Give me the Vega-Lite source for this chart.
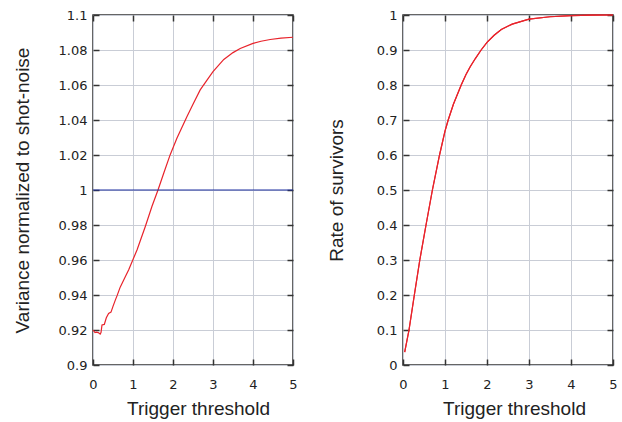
{
  "$schema": "https://vega.github.io/schema/vega-lite/v6.json",
  "padding": {"left": 12, "top": 8, "right": 5, "bottom": 5},
  "background": "white",
  "spacing": 28,
  "datasets": {
    "variance": [
      {"x": 0.0, "v": 0.920}, {"x": 0.05, "v": 0.9185}, {"x": 0.09, "v": 0.9188}, {"x": 0.13, "v": 0.9185},
      {"x": 0.18, "v": 0.9177}, {"x": 0.2, "v": 0.9185}, {"x": 0.225, "v": 0.9229}, {"x": 0.283, "v": 0.9232},
      {"x": 0.333, "v": 0.927}, {"x": 0.39, "v": 0.9295}, {"x": 0.45, "v": 0.9302}, {"x": 0.5, "v": 0.9335},
      {"x": 0.56, "v": 0.9372}, {"x": 0.6, "v": 0.9395}, {"x": 0.68, "v": 0.9445}, {"x": 0.81, "v": 0.9506},
      {"x": 0.89, "v": 0.9543}, {"x": 1.0, "v": 0.9603}, {"x": 1.1, "v": 0.9657}, {"x": 1.31, "v": 0.9793},
      {"x": 1.475, "v": 0.9907}, {"x": 1.625, "v": 1.0}, {"x": 1.77, "v": 1.0097}, {"x": 1.93, "v": 1.0202},
      {"x": 2.1, "v": 1.0297}, {"x": 2.35, "v": 1.042}, {"x": 2.5, "v": 1.049}, {"x": 2.68, "v": 1.0572},
      {"x": 2.85, "v": 1.0628}, {"x": 3.0, "v": 1.0676}, {"x": 3.27, "v": 1.0746}, {"x": 3.5, "v": 1.0785},
      {"x": 3.68, "v": 1.0809}, {"x": 4.0, "v": 1.0838}, {"x": 4.2, "v": 1.085}, {"x": 4.43, "v": 1.086},
      {"x": 4.7, "v": 1.0868}, {"x": 5.0, "v": 1.0873}
    ],
    "ref": [{"x": 0, "v": 1.0}, {"x": 5, "v": 1.0}],
    "survivors": [
      {"x": 0.04, "r": 0.037}, {"x": 0.143, "r": 0.10}, {"x": 0.27, "r": 0.20}, {"x": 0.40, "r": 0.30},
      {"x": 0.548, "r": 0.40}, {"x": 0.70, "r": 0.50}, {"x": 0.87, "r": 0.60}, {"x": 1.0, "r": 0.668},
      {"x": 1.076, "r": 0.70}, {"x": 1.2, "r": 0.745}, {"x": 1.386, "r": 0.80}, {"x": 1.5, "r": 0.83},
      {"x": 1.6, "r": 0.852}, {"x": 1.73, "r": 0.877}, {"x": 1.86, "r": 0.90}, {"x": 2.0, "r": 0.922},
      {"x": 2.17, "r": 0.942}, {"x": 2.34, "r": 0.9586}, {"x": 2.6, "r": 0.974}, {"x": 3.0, "r": 0.988},
      {"x": 3.5, "r": 0.995}, {"x": 4.0, "r": 0.998}, {"x": 4.5, "r": 0.9995}, {"x": 5.0, "r": 1.0}
    ]
  },
  "hconcat": [
    {
      "width": 200,
      "height": 350,
      "layer": [
        {
          "data": {"name": "variance"},
          "mark": {"type": "line", "color": "#e8232b", "strokeWidth": 1.2},
          "encoding": {
            "x": {"field": "x", "type": "quantitative", "scale": {"domain": [0, 5], "nice": false},
                  "axis": {"orient": "bottom", "title": "Trigger threshold", "values": [0, 1, 2, 3, 4, 5], "grid": true, "titleX": 105}},
            "y": {"field": "v", "type": "quantitative", "scale": {"domain": [0.9, 1.1], "nice": false, "zero": false},
                  "axis": {"orient": "left", "title": "Variance normalized to shot-noise", "format": "~g", "grid": true, "titlePadding": 26,
                           "values": [0.9, 0.92, 0.94, 0.96, 0.98, 1, 1.02, 1.04, 1.06, 1.08, 1.1]}}
          }
        },
        {
          "data": {"name": "ref"},
          "mark": {"type": "line", "color": "#1c2ea0", "strokeWidth": 1.2},
          "encoding": {
            "x": {"field": "x", "type": "quantitative", "axis": {"orient": "top", "title": null, "labels": false, "grid": false, "values": [0, 1, 2, 3, 4, 5]}},
            "y": {"field": "v", "type": "quantitative", "axis": {"orient": "right", "title": null, "labels": false, "grid": false,
                  "values": [0.9, 0.92, 0.94, 0.96, 0.98, 1, 1.02, 1.04, 1.06, 1.08, 1.1]}}
          }
        }
      ],
      "resolve": {"axis": {"x": "independent", "y": "independent"}}
    },
    {
      "width": 210,
      "height": 350,
      "layer": [
        {
          "data": {"name": "survivors"},
          "mark": {"type": "line", "color": "#e8232b", "strokeWidth": 1.2},
          "encoding": {
            "x": {"field": "x", "type": "quantitative", "scale": {"domain": [0, 5], "nice": false},
                  "axis": {"orient": "bottom", "title": "Trigger threshold", "values": [0, 1, 2, 3, 4, 5], "grid": true, "titleX": 111}},
            "y": {"field": "r", "type": "quantitative", "scale": {"domain": [0, 1], "nice": false},
                  "axis": {"orient": "left", "title": "Rate of survivors", "format": "~g", "grid": true, "titlePadding": 30,
                           "values": [0, 0.1, 0.2, 0.3, 0.4, 0.5, 0.6, 0.7, 0.8, 0.9, 1]}}
          }
        },
        {
          "data": {"name": "survivors"},
          "mark": {"type": "line", "color": "#e8232b", "strokeWidth": 1.2},
          "encoding": {
            "x": {"field": "x", "type": "quantitative", "axis": {"orient": "top", "title": null, "labels": false, "grid": false, "values": [0, 1, 2, 3, 4, 5]}},
            "y": {"field": "r", "type": "quantitative", "axis": {"orient": "right", "title": null, "labels": false, "grid": false,
                  "values": [0, 0.1, 0.2, 0.3, 0.4, 0.5, 0.6, 0.7, 0.8, 0.9, 1]}}
          }
        }
      ],
      "resolve": {"axis": {"x": "independent", "y": "independent"}}
    }
  ],
  "config": {
    "view": {"stroke": "#333333", "strokeWidth": 1.5},
    "axis": {
      "domain": false,
      "gridColor": "#c9cdd6",
      "gridWidth": 1,
      "gridOpacity": 1,
      "ticks": true,
      "tickSize": -6,
      "tickColor": "#333333",
      "tickWidth": 1.5,
      "labelFont": "DejaVu Sans",
      "labelFontSize": 13,
      "labelColor": "#222222",
      "labelPadding": 12,
      "labelFlush": false,
      "labelOverlap": false,
      "titleFont": "Liberation Sans",
      "titleFontSize": 19,
      "titleFontWeight": "normal",
      "titleColor": "#222222"
    },
    "axisBottom": {"labelPadding": 19, "titlePadding": 8}
  }
}
